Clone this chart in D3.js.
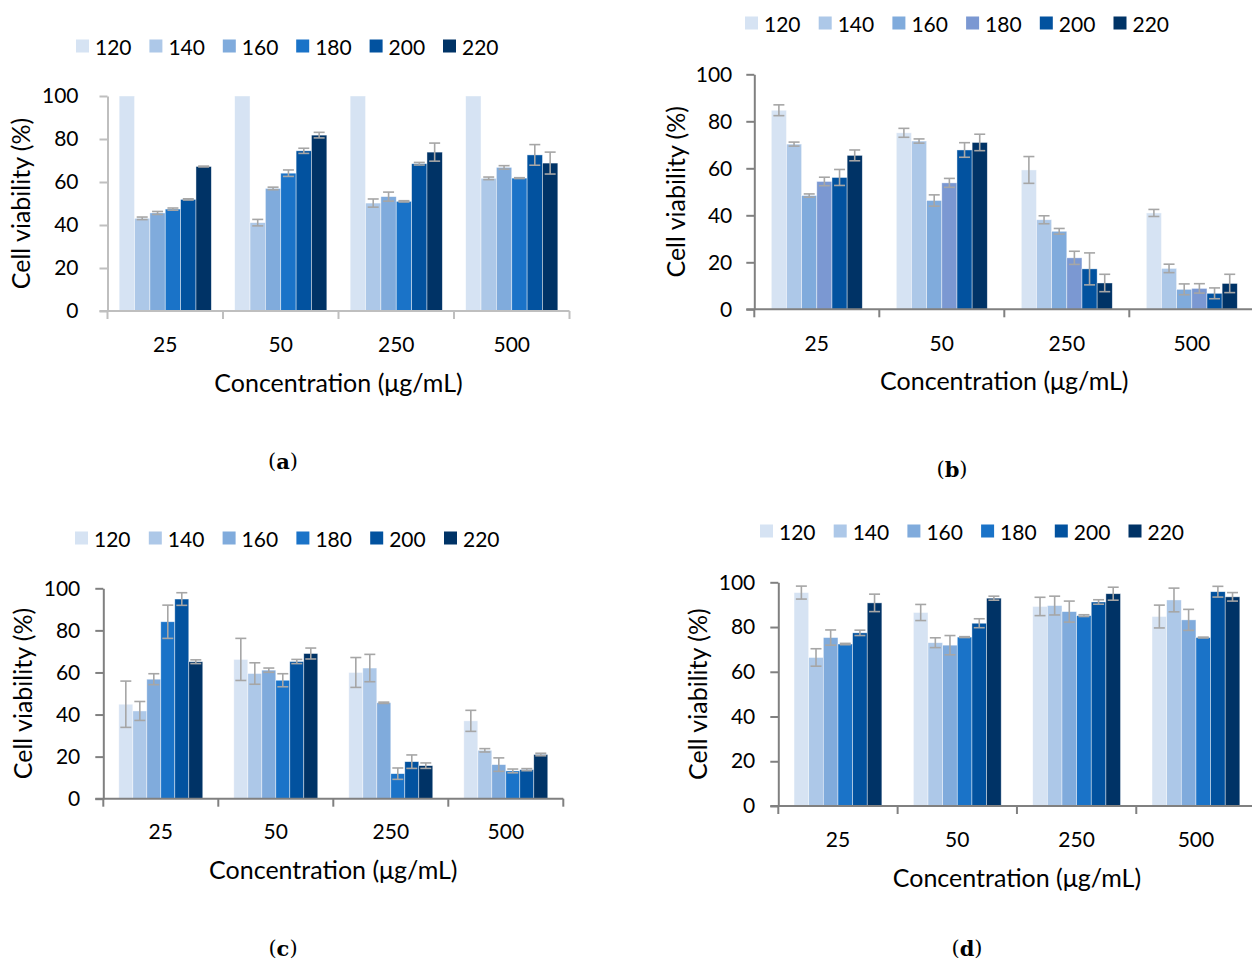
<!DOCTYPE html>
<html><head><meta charset="utf-8">
<script src="https://cdn.jsdelivr.net/npm/d3@7"></script>
<style>
html,body{margin:0;padding:0;background:#fff;}
svg{display:block;}
</style></head>
<body>
<svg id="chart" width="1252" height="961"></svg>
<script>
// ---------- data ----------
const categories = ["25", "50", "250", "500"];
const seriesNames = ["120", "140", "160", "180", "200", "220"];
const yTicks = [0, 20, 40, 60, 80, 100];
const xTitle = "Concentration (μg/mL)";
const yTitle = "Cell viability (%)";

// values per series (rows: 120..220), columns: 25, 50, 250, 500 µg/mL
const valuesA = [
  [100, 100, 100, 100],
  [43.1, 41.1, 50.2, 61.7],
  [45.6, 57.0, 53.2, 66.8],
  [47.4, 64.1, 51.0, 61.8],
  [51.9, 74.5, 68.5, 72.6],
  [67.2, 81.8, 73.9, 68.8]
];
const errorsA = [
  [0, 0, 0, 0],
  [0.6, 1.5, 1.9, 0.6],
  [0.7, 0.6, 2.1, 0.8],
  [0.5, 1.5, 0.3, 0.2],
  [0.3, 1.2, 0.6, 4.8],
  [0.2, 1.3, 4.2, 5.1]
];
const valuesB = [
  [84.7, 75.1, 59.3, 41.0],
  [70.3, 71.6, 38.1, 17.4],
  [48.4, 46.3, 33.2, 8.5],
  [54.4, 53.8, 21.9, 8.9],
  [56.1, 67.8, 17.2, 6.8],
  [65.5, 71.0, 11.2, 11.0]
];
const errorsB = [
  [2.3, 1.9, 5.7, 1.5],
  [0.85, 0.9, 1.7, 1.8],
  [0.7, 2.4, 1.2, 2.3],
  [1.8, 1.9, 2.8, 2.0],
  [3.4, 3.1, 6.8, 2.3],
  [2.3, 3.5, 3.7, 3.9]
];
const valuesC = [
  [44.9, 66.2, 60.0, 37.0],
  [41.7, 59.5, 62.1, 23.0],
  [56.8, 61.1, 45.6, 16.2],
  [84.1, 56.3, 11.9, 13.2],
  [94.9, 65.2, 17.6, 13.8],
  [65.1, 69.0, 15.7, 21.0]
];
const errorsC = [
  [11.0, 10.0, 7.1, 5.0],
  [4.5, 5.1, 6.5, 0.8],
  [2.6, 1.0, 0.3, 3.2],
  [7.9, 3.1, 2.7, 0.9],
  [3.0, 1.0, 3.2, 0.5],
  [0.9, 2.6, 1.3, 0.6]
];
const valuesD = [
  [95.4, 86.5, 89.2, 84.7],
  [66.4, 73.0, 89.6, 92.1],
  [75.3, 71.9, 86.9, 83.2],
  [72.4, 75.5, 85.1, 75.3],
  [77.4, 81.7, 91.2, 95.8],
  [90.8, 92.9, 94.9, 93.5]
];
const errorsD = [
  [2.9, 3.6, 4.1, 5.1],
  [3.9, 2.2, 4.2, 5.3],
  [3.4, 4.3, 4.7, 4.7],
  [0.3, 0.2, 0.4, 0.2],
  [1.2, 2.0, 1.0, 2.4],
  [3.9, 0.9, 2.9, 1.9]
];

// ---------- styles ----------
const paletteMain = ["#d6e3f3", "#adc8e8", "#80abdc", "#1a73c8", "#02529f", "#003366"];
const paletteB    = ["#d6e3f3", "#adc8e8", "#80abdc", "#7b98d2", "#02529f", "#003366"];
const FONT = "Lato, 'Open Sans', sans-serif";

const panels = [
  {values: valuesA, errors: errorsA, colors: paletteMain, axis: "#bfbfbf",
   x0: 107.5, x1: 569.5, yTop: 96, yBot: 311, pad: 0.101, tickPad: 21,
   legY: 46, legX: 76, legStep: 73.4,
   xLabY: 343, xTitY: 382, yTitX: 20, cap: "a", capX: 283, capY: 461},
  {values: valuesB, errors: errorsB, colors: paletteB, axis: "#808080",
   x0: 754.3, x1: 1254.3, yTop: 74.3, yBot: 309.3, pad: 0.136, tickPad: 14,
   legY: 23, legX: 745, legStep: 73.7,
   xLabY: 342, xTitY: 380, yTitX: 675, cap: "b", capX: 952, capY: 469},
  {values: valuesC, errors: errorsC, colors: paletteMain, axis: "#808080",
   x0: 103.3, x1: 563.3, yTop: 588.3, yBot: 798.7, pad: 0.135, tickPad: 15,
   legY: 538, legX: 75, legStep: 73.8,
   xLabY: 830, xTitY: 869, yTitX: 22, cap: "c", capX: 283, capY: 948},
  {values: valuesD, errors: errorsD, colors: paletteMain, axis: "#808080",
   x0: 778.3, x1: 1255.6, yTop: 582.3, yBot: 806, pad: 0.132, tickPad: 15,
   legY: 531, legX: 760, legStep: 73.7,
   xLabY: 838, xTitY: 877, yTitX: 697, cap: "d", capX: 967, capY: 948}
];

const svg = d3.select("#chart");

panels.forEach(p => {
  const g = svg.append("g");
  const x = d3.scaleBand().domain(categories).range([p.x0, p.x1]).paddingInner(0).paddingOuter(0);
  const bw = x.bandwidth();
  const xs = d3.scaleBand().domain(seriesNames).range([bw * p.pad, bw * (1 - p.pad)]).padding(0);
  const y = d3.scaleLinear().domain([0, 100]).range([p.yBot, p.yTop]);

  // bars
  seriesNames.forEach((s, si) => {
    categories.forEach((c, ci) => {
      const v = Math.min(p.values[si][ci], 100);
      g.append("rect")
        .attr("x", x(c) + xs(s))
        .attr("y", y(v))
        .attr("width", xs.bandwidth())
        .attr("height", y(0) - y(v))
        .attr("fill", p.colors[si])
        .attr("stroke", "#ffffff")
        .attr("stroke-opacity", 0.6)
        .attr("stroke-width", 0.7);
    });
  });

  // error bars
  seriesNames.forEach((s, si) => {
    categories.forEach((c, ci) => {
      const v = p.values[si][ci], e = p.errors[si][ci];
      if (!e) return;
      const cx = x(c) + xs(s) + xs.bandwidth() / 2;
      const hw = 5.5;
      const eg = g.append("g").attr("stroke", "#a6a6a6").attr("stroke-width", 1.6).attr("fill", "none");
      eg.append("line").attr("x1", cx).attr("x2", cx).attr("y1", y(v - e)).attr("y2", y(Math.min(v + e, 100)));
      eg.append("line").attr("x1", cx - hw).attr("x2", cx + hw).attr("y1", y(v + e)).attr("y2", y(v + e));
      eg.append("line").attr("x1", cx - hw).attr("x2", cx + hw).attr("y1", y(v - e)).attr("y2", y(v - e));
    });
  });

  // y axis
  const yAxis = d3.axisLeft(y).tickValues(yTicks).tickSize(8).tickPadding(p.tickPad).tickSizeOuter(0);
  const ya = g.append("g").attr("transform", `translate(${p.x0},0)`).call(yAxis);
  ya.select(".domain").attr("stroke", p.axis).attr("stroke-width", 2);
  ya.selectAll(".tick line").attr("stroke", p.axis).attr("stroke-width", 2);
  ya.selectAll(".tick text").attr("font-family", FONT).attr("font-size", 21).attr("fill", "#000");

  // x axis line + boundary ticks
  g.append("line").attr("x1", p.x0 - 8).attr("x2", p.x1).attr("y1", p.yBot).attr("y2", p.yBot)
    .attr("stroke", p.axis).attr("stroke-width", 2);
  const edges = categories.map(c => x(c)).concat([p.x1]);
  edges.forEach(ex => {
    g.append("line").attr("x1", ex).attr("x2", ex).attr("y1", p.yBot).attr("y2", p.yBot + 8)
      .attr("stroke", p.axis).attr("stroke-width", 2);
  });
  categories.forEach(c => {
    g.append("text").attr("x", x(c) + bw / 2).attr("y", p.xLabY)
      .attr("text-anchor", "middle").attr("dominant-baseline", "central")
      .attr("font-family", FONT).attr("font-size", 21).attr("fill", "#000").text(c);
  });

  // axis titles
  g.append("text").attr("x", (p.x0 + p.x1) / 2).attr("y", p.xTitY)
    .attr("text-anchor", "middle").attr("dominant-baseline", "central")
    .attr("font-family", FONT).attr("font-size", 25).attr("fill", "#000").text(xTitle);
  const ymid = (p.yTop + p.yBot) / 2;
  g.append("text").attr("transform", `translate(${p.yTitX},${ymid}) rotate(-90)`)
    .attr("text-anchor", "middle").attr("dominant-baseline", "central")
    .attr("font-family", FONT).attr("font-size", 25).attr("fill", "#000").text(yTitle);

  // legend
  seriesNames.forEach((s, si) => {
    const lx = p.legX + si * p.legStep;
    g.append("rect").attr("x", lx).attr("y", p.legY - 6.5).attr("width", 13).attr("height", 13)
      .attr("fill", p.colors[si]);
    g.append("text").attr("x", lx + 19).attr("y", p.legY)
      .attr("dominant-baseline", "central")
      .attr("font-family", FONT).attr("font-size", 21).attr("fill", "#000").text(s);
  });

  // caption
  const cap = g.append("text").attr("x", p.capX).attr("y", p.capY)
    .attr("text-anchor", "middle").attr("dominant-baseline", "central")
    .attr("font-family", "'DejaVu Serif', 'Liberation Serif', serif").attr("font-size", 21).attr("fill", "#000");
  cap.append("tspan").text("(");
  cap.append("tspan").attr("font-weight", "bold").text(p.cap);
  cap.append("tspan").text(")");
});
</script>
</body></html>
